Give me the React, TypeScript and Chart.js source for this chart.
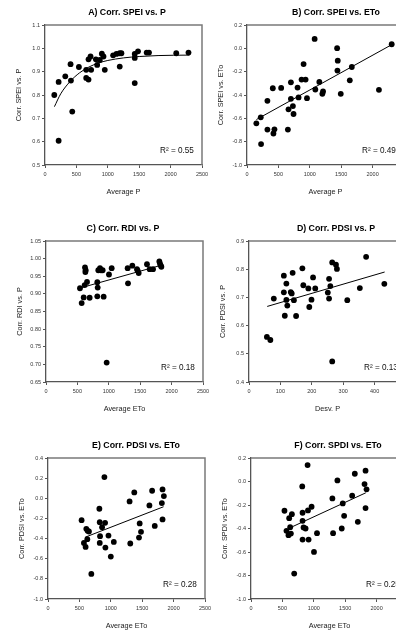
import { useEffect, useRef } from "react";
import { Chart, registerables } from "chart.js";

Chart.register(...registerables);

const FONT = "'Liberation Sans', Arial, Helvetica, sans-serif";

// ---- A) SPEI correlation vs. average precipitation ----
const avgP_A = [148, 217, 217, 323, 407, 413, 434, 540, 656, 656, 693, 693, 725, 735, 810, 831, 873, 905, 931, 952, 1085, 1138, 1190, 1190, 1217, 1429, 1429, 1429, 1481, 1619, 1656, 2090, 2285];
const corrSPEI_P = [0.80, 0.856, 0.604, 0.88, 0.932, 0.862, 0.729, 0.92, 0.908, 0.873, 0.866, 0.953, 0.965, 0.908, 0.953, 0.929, 0.95, 0.977, 0.965, 0.908, 0.97, 0.976, 0.979, 0.922, 0.979, 0.959, 0.976, 0.851, 0.987, 0.982, 0.982, 0.979, 0.982];
const fitA_x = [150, 250, 400, 550, 700, 850, 1000, 1250, 1500, 1800, 2300];
const fitA_y = [0.75, 0.805, 0.858, 0.895, 0.92, 0.937, 0.948, 0.959, 0.965, 0.969, 0.971];

// ---- B) SPEI correlation vs. ETo, against average precipitation ----
const avgP_B = [149, 219, 224, 325, 325, 411, 421, 437, 544, 651, 661, 699, 699, 731, 741, 805, 821, 869, 901, 933, 955, 1077, 1088, 1152, 1200, 1211, 1435, 1440, 1445, 1493, 1637, 1669, 2101, 2304];
const corrSPEI_ETo = [-0.643, -0.591, -0.821, -0.45, -0.696, -0.342, -0.73, -0.694, -0.339, -0.696, -0.523, -0.291, -0.433, -0.495, -0.563, -0.336, -0.421, -0.268, -0.135, -0.268, -0.427, 0.081, -0.353, -0.288, -0.39, -0.37, 0.001, -0.191, -0.106, -0.39, -0.274, -0.16, -0.356, 0.035];
const fitB_x = [150, 2300];
const fitB_y = [-0.61, 0.03];

// ---- C) RDI correlation vs. P, against average ETo ----
const avgETo_C = [541, 568, 600, 616, 621, 627, 632, 653, 695, 817, 823, 817, 833, 860, 876, 902, 918, 966, 1003, 1046, 1300, 1306, 1375, 1449, 1460, 1476, 1608, 1651, 1704, 1805, 1815, 1826, 1837];
const corrRDI_P = [0.916, 0.874, 0.89, 0.925, 0.975, 0.962, 0.967, 0.934, 0.889, 0.933, 0.918, 0.893, 0.967, 0.973, 0.967, 0.967, 0.892, 0.705, 0.955, 0.973, 0.973, 0.93, 0.98, 0.97, 0.966, 0.959, 0.984, 0.97, 0.97, 0.992, 0.986, 0.981, 0.977];
const fitC_x = [531, 1831];
const fitC_y = [0.916, 0.981];

// ---- D) PDSI correlation vs. P, against precipitation deviation ----
const desvP_D = [57, 68, 79, 111, 111, 114, 119, 119, 122, 133, 136, 139, 143, 150, 170, 173, 189, 192, 199, 204, 211, 251, 255, 255, 259, 265, 265, 277, 280, 313, 353, 373, 431];
const corrPDSI_P = [0.56, 0.549, 0.696, 0.777, 0.718, 0.635, 0.749, 0.691, 0.671, 0.719, 0.714, 0.787, 0.69, 0.634, 0.803, 0.743, 0.732, 0.666, 0.692, 0.771, 0.732, 0.717, 0.766, 0.696, 0.74, 0.824, 0.473, 0.816, 0.801, 0.69, 0.733, 0.844, 0.748];
const fitD_x = [58, 432];
const fitD_y = [0.668, 0.79];

// ---- E) PDSI correlation vs. ETo, against average ETo ----
const avgETo_E = [535, 572, 599, 610, 626, 631, 652, 690, 818, 824, 824, 829, 861, 898, 909, 914, 963, 1000, 1048, 1299, 1310, 1374, 1449, 1460, 1481, 1615, 1658, 1700, 1813, 1824, 1824, 1845];
const corrPDSI_ETo = [-0.217, -0.443, -0.483, -0.303, -0.406, -0.323, -0.33, -0.751, -0.104, -0.237, -0.443, -0.376, -0.287, 0.211, -0.244, -0.489, -0.37, -0.579, -0.433, -0.031, -0.449, 0.058, -0.39, -0.25, -0.333, -0.071, 0.075, -0.274, -0.048, 0.088, -0.21, 0.022];
const fitE_x = [594, 1840];
const fitE_y = [-0.386, -0.084];

// ---- F) SPDI correlation vs. ETo, against average ETo ----
const avgETo_F = [533, 565, 597, 608, 624, 635, 651, 688, 816, 821, 821, 821, 837, 869, 901, 907, 917, 965, 1003, 1051, 1296, 1307, 1376, 1445, 1461, 1483, 1611, 1653, 1701, 1808, 1824, 1824, 1840];
const corrSPDI_ETo = [-0.249, -0.42, -0.457, -0.312, -0.389, -0.443, -0.278, -0.784, -0.042, -0.266, -0.335, -0.494, -0.391, -0.4, 0.14, -0.246, -0.494, -0.215, -0.599, -0.44, -0.144, -0.44, 0.009, -0.4, -0.187, -0.292, -0.121, 0.066, -0.343, -0.022, 0.092, -0.226, -0.067];
const fitF_x = [597, 1829];
const fitF_y = [-0.4, -0.096];

// ---- axis ticks ----
const xTicks2500 = [0, 500, 1000, 1500, 2000, 2500];
const xLabels2500 = ["0", "500", "1000", "1500", "2000", "2500"];
const xTicks500 = [0, 100, 200, 300, 400, 500];
const xLabels500 = ["0", "100", "200", "300", "400", "500"];
const yTicksA = [0.5, 0.6, 0.7, 0.8, 0.9, 1.0, 1.1];
const yLabelsA = ["0.5", "0.6", "0.7", "0.8", "0.9", "1.0", "1.1"];
const yTicksB = [-1.0, -0.8, -0.6, -0.4, -0.2, 0.0, 0.2];
const yLabelsB = ["-1.0", "-0.8", "-0.6", "-0.4", "-0.2", "0.0", "0.2"];
const yTicksC = [0.65, 0.7, 0.75, 0.8, 0.85, 0.9, 0.95, 1.0, 1.05];
const yLabelsC = ["0.65", "0.70", "0.75", "0.80", "0.85", "0.90", "0.95", "1.00", "1.05"];
const yTicksD = [0.4, 0.5, 0.6, 0.7, 0.8, 0.9];
const yLabelsD = ["0.4", "0.5", "0.6", "0.7", "0.8", "0.9"];
const yTicksE = [-1.0, -0.8, -0.6, -0.4, -0.2, 0.0, 0.2, 0.4];
const yLabelsE = ["-1.0", "-0.8", "-0.6", "-0.4", "-0.2", "0.0", "0.2", "0.4"];

type Panel = {
  title: string;
  xTitle: string;
  yTitle: string;
  r2: string;
  x: number[];
  y: number[];
  fitX: number[];
  fitY: number[];
  curved?: boolean;
  xTicks: number[];
  xLabels: string[];
  yTicks: number[];
  yLabels: string[];
  // plot area on the page: left, top, right, bottom
  area: [number, number, number, number];
  titleDx: number;
};

const panels: Panel[] = [
  {
    title: "A) Corr. SPEI vs. P", xTitle: "Average P", yTitle: "Corr. SPEI vs. P", r2: "R² = 0.55",
    x: avgP_A, y: corrSPEI_P, fitX: fitA_x, fitY: fitA_y, curved: true,
    xTicks: xTicks2500, xLabels: xLabels2500, yTicks: yTicksA, yLabels: yLabelsA,
    area: [45, 25, 202, 165], titleDx: 82,
  },
  {
    title: "B) Corr. SPEI vs. ETo", xTitle: "Average P", yTitle: "Corr. SPEI vs. ETo", r2: "R² = 0.49",
    x: avgP_B, y: corrSPEI_ETo, fitX: fitB_x, fitY: fitB_y,
    xTicks: xTicks2500, xLabels: xLabels2500, yTicks: yTicksB, yLabels: yLabelsB,
    area: [247, 25, 404, 165], titleDx: 89,
  },
  {
    title: "C) Corr. RDI vs. P", xTitle: "Average ETo", yTitle: "Corr. RDI vs. P", r2: "R² = 0.18",
    x: avgETo_C, y: corrRDI_P, fitX: fitC_x, fitY: fitC_y,
    xTicks: xTicks2500, xLabels: xLabels2500, yTicks: yTicksC, yLabels: yLabelsC,
    area: [46, 241, 203, 382], titleDx: 77,
  },
  {
    title: "D) Corr. PDSI vs. P", xTitle: "Desv. P", yTitle: "Corr. PDSI vs. P", r2: "R² = 0.13",
    x: desvP_D, y: corrPDSI_P, fitX: fitD_x, fitY: fitD_y,
    xTicks: xTicks500, xLabels: xLabels500, yTicks: yTicksD, yLabels: yLabelsD,
    area: [249, 241, 406, 382], titleDx: 87,
  },
  {
    title: "E) Corr. PDSI vs. ETo", xTitle: "Average ETo", yTitle: "Corr. PDSI vs. ETo", r2: "R² = 0.28",
    x: avgETo_E, y: corrPDSI_ETo, fitX: fitE_x, fitY: fitE_y,
    xTicks: xTicks2500, xLabels: xLabels2500, yTicks: yTicksE, yLabels: yLabelsE,
    area: [48, 458, 205, 599], titleDx: 88,
  },
  {
    title: "F) Corr. SPDI vs. ETo", xTitle: "Average ETo", yTitle: "Corr. SPDI vs. ETo", r2: "R² = 0.25",
    x: avgETo_F, y: corrSPDI_ETo, fitX: fitF_x, fitY: fitF_y,
    xTicks: xTicks2500, xLabels: xLabels2500, yTicks: yTicksB, yLabels: yLabelsB,
    area: [251, 458, 408, 599], titleDx: 87,
  },
];

const PAD_LEFT = 45; // y axis block width
const PAD_TOP = 25; // room for the panel title
const PAD_RIGHT = 12;
const PAD_BOTTOM = 35; // x axis block height

// Frame (top/right), panel title and R² note
const panelDecor = {
  id: "panelDecor",
  beforeDatasetsDraw(chart: any) {
    const { ctx, chartArea: a } = chart;
    ctx.save();
    ctx.strokeStyle = "#7a7a7a";
    ctx.lineWidth = 1.5;
    ctx.beginPath();
    ctx.moveTo(a.left, a.top);
    ctx.lineTo(a.right, a.top);
    ctx.lineTo(a.right, a.bottom);
    ctx.stroke();
    ctx.restore();
  },
  afterDraw(chart: any, _args: any, opts: any) {
    const { ctx, chartArea: a } = chart;
    ctx.save();
    ctx.fillStyle = "#000";
    ctx.font = `bold 8.8px ${FONT}`;
    ctx.textAlign = "center";
    ctx.textBaseline = "middle";
    ctx.fillText(opts.title, a.left + opts.titleDx, a.top - 12.5);
    ctx.font = `8.2px ${FONT}`;
    ctx.textAlign = "left";
    ctx.fillStyle = "#111";
    ctx.fillText(opts.r2, a.left + 115, a.bottom - 14);
    ctx.restore();
  },
};

function PanelChart({ p }: { p: Panel }) {
  const ref = useRef<HTMLCanvasElement | null>(null);
  const [L, T, R, B] = p.area;
  const width = R - L + PAD_LEFT + PAD_RIGHT;
  const height = B - T + PAD_TOP + PAD_BOTTOM;

  useEffect(() => {
    if (!ref.current) return;
    const tickFont = { family: FONT, size: 5.5 };
    const titleFont = { family: FONT, size: 7.3 };
    const grid = { display: true, drawOnChartArea: false, drawTicks: true, tickLength: 3, color: "#555", lineWidth: 1 };
    const border = { display: true, color: "#555", width: 1.3 };

    const chart = new Chart(ref.current, {
      type: "scatter",
      data: {
        datasets: [
          {
            type: "scatter",
            data: p.x.map((v, i) => ({ x: v, y: p.y[i] })),
            backgroundColor: "#000",
            borderColor: "#000",
            borderWidth: 0,
            pointRadius: 2.9,
            order: 1,
          } as any,
          {
            type: "line",
            data: p.fitX.map((v, i) => ({ x: v, y: p.fitY[i] })),
            borderColor: "#000",
            borderWidth: 1,
            pointRadius: 0,
            fill: false,
            cubicInterpolationMode: p.curved ? "monotone" : "default",
            order: 2,
          } as any,
        ],
      },
      options: {
        animation: false,
        responsive: false,
        maintainAspectRatio: false,
        events: [],
        layout: { padding: { left: 0, top: PAD_TOP, right: PAD_RIGHT, bottom: 0 } },
        plugins: {
          legend: { display: false },
          tooltip: { enabled: false },
          panelDecor: { title: p.title, r2: p.r2, titleDx: p.titleDx },
        } as any,
        scales: {
          x: {
            type: "linear",
            min: p.xTicks[0],
            max: p.xTicks[p.xTicks.length - 1],
            afterFit: (s: any) => {
              s.height = PAD_BOTTOM;
            },
            afterBuildTicks: (s: any) => {
              s.ticks = p.xTicks.map((v) => ({ value: v }));
            },
            ticks: {
              callback: (_v: any, i: number) => p.xLabels[i],
              font: tickFont,
              color: "#333",
              padding: 3.5,
              maxRotation: 0,
              autoSkip: false,
            },
            grid,
            border,
            title: { display: true, text: p.xTitle, font: titleFont, color: "#222", padding: { top: 0, bottom: 3.3 } },
          },
          y: {
            type: "linear",
            min: p.yTicks[0],
            max: p.yTicks[p.yTicks.length - 1],
            afterFit: (s: any) => {
              s.width = PAD_LEFT;
            },
            afterBuildTicks: (s: any) => {
              s.ticks = p.yTicks.map((v) => ({ value: v }));
            },
            ticks: {
              callback: (_v: any, i: number) => p.yLabels[i],
              font: tickFont,
              color: "#333",
              padding: 2,
              autoSkip: false,
            },
            grid,
            border,
            title: { display: true, text: p.yTitle, font: titleFont, color: "#222", padding: { top: 14.6, bottom: 0 } },
          },
        },
      } as any,
      plugins: [panelDecor],
    });
    return () => chart.destroy();
  }, [p]);

  return (
    <canvas
      ref={ref}
      width={width}
      height={height}
      style={{ position: "absolute", left: L - PAD_LEFT, top: T - PAD_TOP, width, height }}
    />
  );
}

export default function App() {
  return (
    <div
      style={{
        position: "fixed",
        left: 0,
        top: 0,
        width: 396,
        height: 634,
        overflow: "hidden",
        background: "#fff",
      }}
    >
      {panels.map((p, i) => (
        <PanelChart key={i} p={p} />
      ))}
    </div>
  );
}
